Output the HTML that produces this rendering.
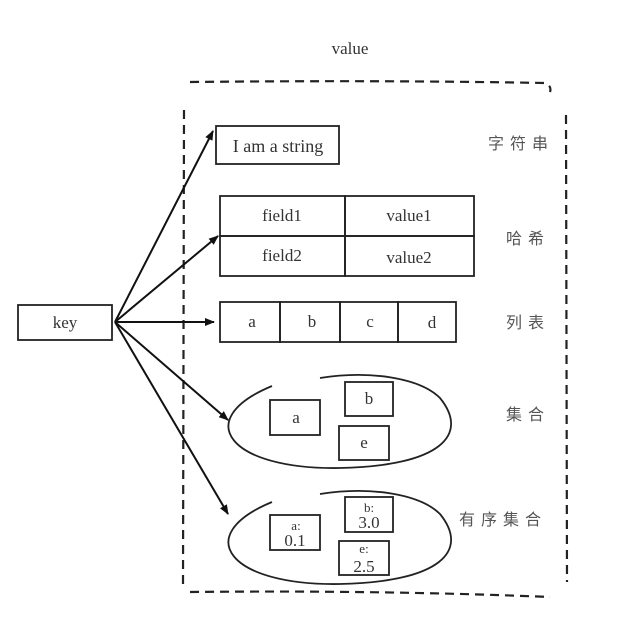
<!DOCTYPE html>
<html><head><meta charset="utf-8"><style>
html,body{margin:0;padding:0;background:#fff;width:640px;height:624px;overflow:hidden}
svg{display:block}
text{font-family:"Liberation Serif","Noto Serif CJK SC",serif;fill:#333}
.c{font-family:"Liberation Sans","Noto Sans CJK SC",sans-serif;fill:#555;letter-spacing:6px}
</style></head><body>
<svg width="640" height="624" viewBox="0 0 640 624" xmlns="http://www.w3.org/2000/svg">
<defs><marker id="ah" markerWidth="10" markerHeight="8" refX="9" refY="4" orient="auto" markerUnits="userSpaceOnUse"><path d="M0,0 L10,4 L0,8 z" fill="#111"/></marker></defs>
<text x="350" y="54" font-size="17" text-anchor="middle">value</text>
<g fill="none" stroke="#222" stroke-width="2.2" stroke-dasharray="9,6">
<path d="M190,82 Q380,80 545,83 Q552,86 550,92"/>
<path d="M184,110 L183,588"/>
<path d="M566,115 L567,582"/>
<path d="M190,592 Q380,590 550,597"/>
</g>
<g fill="none" stroke="#222" stroke-width="1.8">
<rect x="18" y="305" width="94" height="35"/>
<rect x="216" y="126" width="123" height="38"/>
<rect x="220" y="196" width="125" height="40"/>
<rect x="345" y="196" width="129" height="40"/>
<rect x="220" y="236" width="125" height="40"/>
<rect x="345" y="236" width="129" height="40"/>
<rect x="220" y="302" width="60" height="40"/>
<rect x="280" y="302" width="60" height="40"/>
<rect x="340" y="302" width="58" height="40"/>
<rect x="398" y="302" width="58" height="40"/>
<path d="M272,386 C190,420 230,470 340,468 C440,466 470,435 440,398 C420,378 370,370 320,378"/>
<rect x="270" y="400" width="50" height="35"/>
<rect x="345" y="382" width="48" height="34"/>
<rect x="339" y="426" width="50" height="34"/>
<path d="M272,502 C190,536 230,586 340,584 C440,582 470,551 440,514 C420,494 370,486 320,494"/>
<rect x="270" y="515" width="50" height="35"/>
<rect x="345" y="497" width="48" height="35"/>
<rect x="339" y="541" width="50" height="34"/>
</g>
<g stroke="#111" stroke-width="2" fill="none" marker-end="url(#ah)">
<line x1="115" y1="322" x2="213" y2="131"/>
<line x1="115" y1="322" x2="218" y2="236"/>
<line x1="115" y1="322" x2="214" y2="322"/>
<line x1="115" y1="322" x2="228" y2="420"/>
<line x1="115" y1="322" x2="228" y2="514"/>
</g>
<g font-size="17" text-anchor="middle">
<text x="65" y="328">key</text>
<text x="278" y="152" font-size="18">I am a string</text>
<text x="282" y="221">field1</text>
<text x="409" y="221">value1</text>
<text x="282" y="261">field2</text>
<text x="409" y="263">value2</text>
<text x="252" y="327">a</text>
<text x="312" y="327">b</text>
<text x="370" y="327">c</text>
<text x="432" y="328">d</text>
<text x="296" y="423">a</text>
<text x="369" y="404">b</text>
<text x="364" y="448">e</text>
<text x="296" y="530" font-size="13">a:</text>
<text x="295" y="546">0.1</text>
<text x="369" y="512" font-size="13">b:</text>
<text x="369" y="528">3.0</text>
<text x="364" y="553" font-size="13">e:</text>
<text x="364" y="572">2.5</text>
</g>
<g font-size="16">
<text class="c" x="488" y="149">字符串</text>
<text class="c" x="506" y="244">哈希</text>
<text class="c" x="506" y="328">列表</text>
<text class="c" x="506" y="420">集合</text>
<text class="c" x="459" y="525">有序集合</text>
</g>
</svg>
</body></html>
